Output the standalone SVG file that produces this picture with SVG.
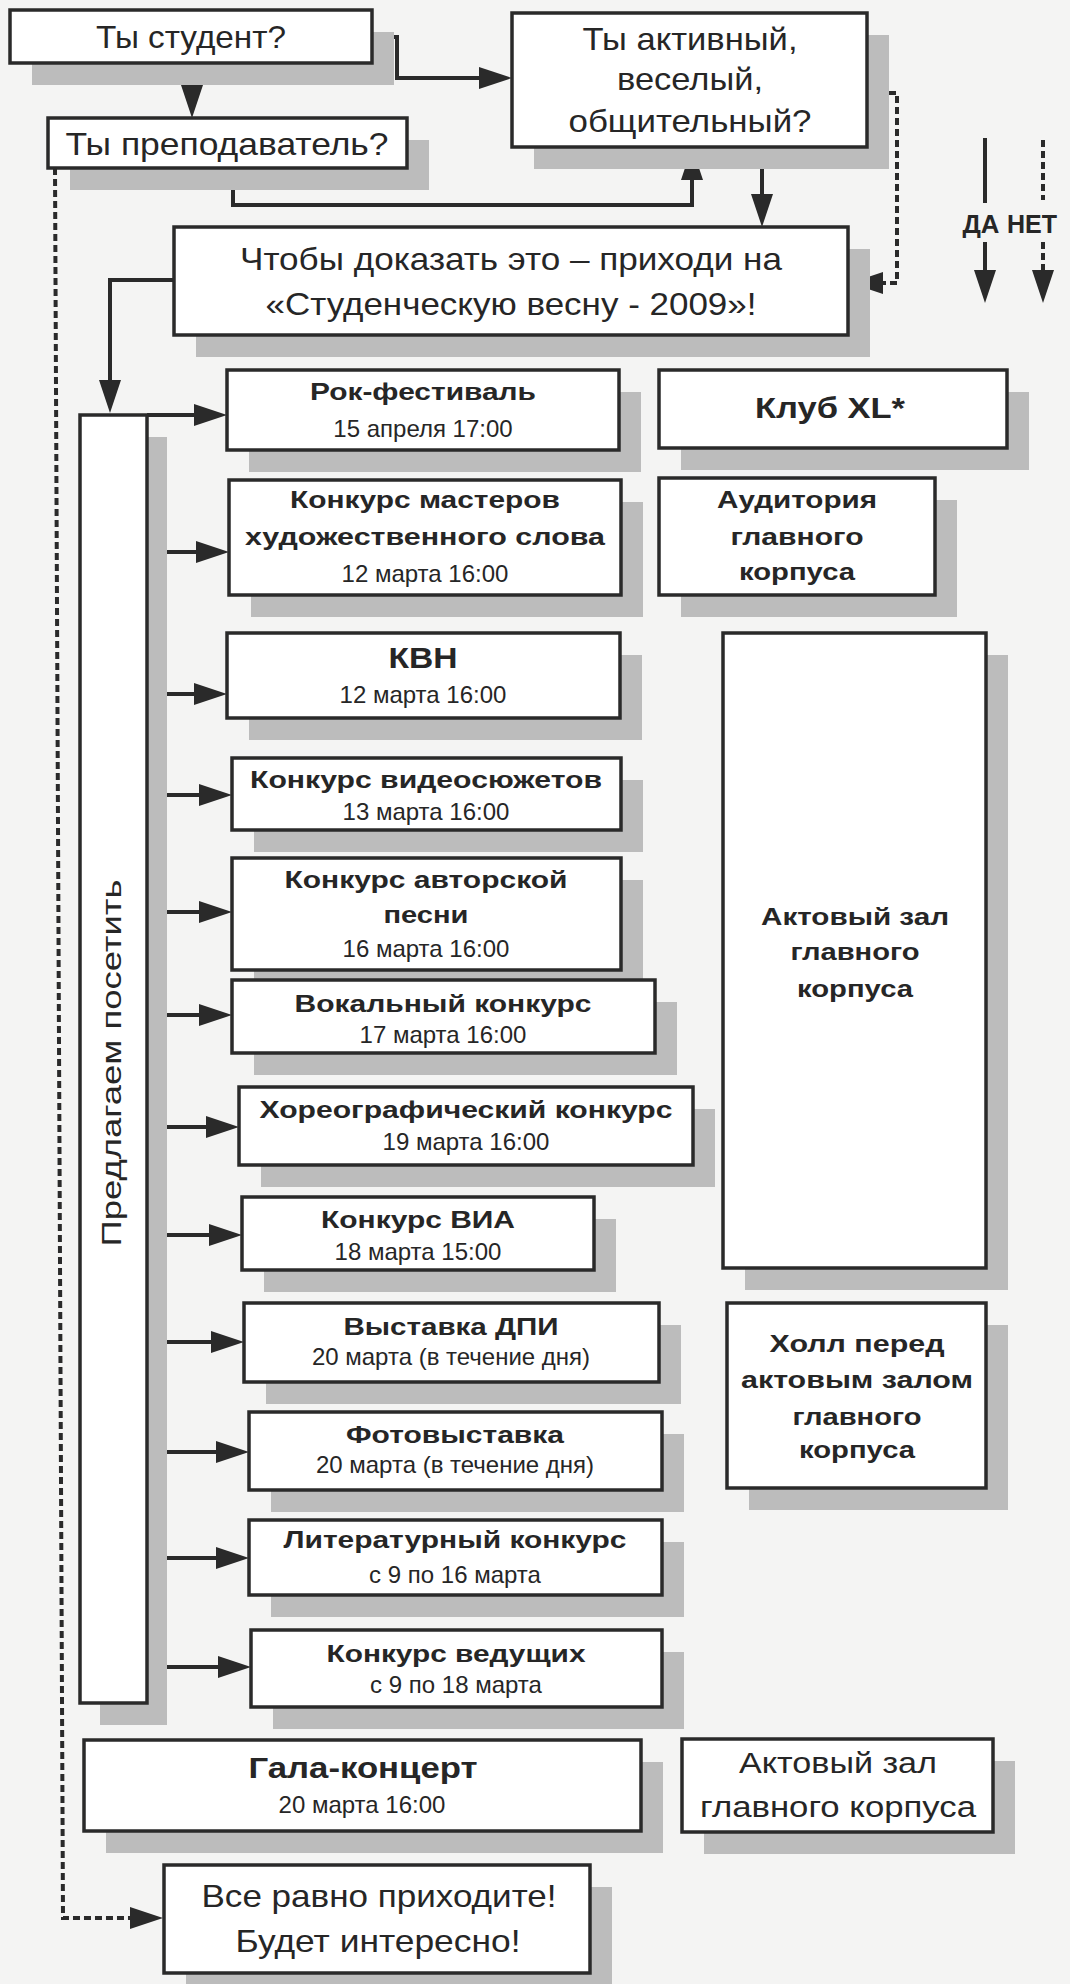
<svg xmlns="http://www.w3.org/2000/svg" width="1070" height="1984" viewBox="0 0 1070 1984">
<defs>
<style>
.bg{fill:#f4f4f3}
.box{fill:#ffffff;stroke:#2a2a2a;stroke-width:3.5}
.sh{fill:#bcbcbc}
.t{font-family:"Liberation Sans",Arial,sans-serif;fill:#262626;text-anchor:middle}
.q{font-size:32px}
.b{font-size:24px;font-weight:bold}
.bb{font-size:30px;font-weight:bold}
.d{font-size:24px}
.r{font-size:29px}
.c{fill:none;stroke:#2a2a2a;stroke-width:4}
.dash{stroke-dasharray:7 4}
</style>
<marker id="ah" markerUnits="userSpaceOnUse" markerWidth="36" markerHeight="24" refX="23" refY="11" orient="auto">
<path d="M0,0 L33,11 L0,22 z" fill="#2a2a2a"/>
</marker>
</defs>
<rect class="bg" x="0" y="0" width="1070" height="1984"/>

<g id="connectors">
<path class="c" d="M372,37 H397 V78 H502" marker-end="url(#ah)"/>
<path class="c dash" d="M192,63 V108" marker-end="url(#ah)"/>
<path class="c" d="M233,168 V205 H692 V157" marker-end="url(#ah)"/>
<path class="c dash" d="M55,168 L63,1918 H153" marker-end="url(#ah)"/>
<path class="c" d="M762,147 V217" marker-end="url(#ah)"/>
<path class="c dash" d="M867,93 H897 V283 H860" marker-end="url(#ah)"/>
<path class="c" d="M174,280 H110 V403" marker-end="url(#ah)"/>
<path class="c" d="M147,415 H217" marker-end="url(#ah)"/>
<path class="c" d="M147,552 H219" marker-end="url(#ah)"/>
<path class="c" d="M147,694 H217" marker-end="url(#ah)"/>
<path class="c" d="M147,795 H222" marker-end="url(#ah)"/>
<path class="c" d="M147,912 H222" marker-end="url(#ah)"/>
<path class="c" d="M147,1015 H222" marker-end="url(#ah)"/>
<path class="c" d="M147,1127 H229" marker-end="url(#ah)"/>
<path class="c" d="M147,1235 H232" marker-end="url(#ah)"/>
<path class="c" d="M147,1342 H234" marker-end="url(#ah)"/>
<path class="c" d="M147,1452 H239" marker-end="url(#ah)"/>
<path class="c" d="M147,1558 H239" marker-end="url(#ah)"/>
<path class="c" d="M147,1667 H241" marker-end="url(#ah)"/>
</g>

<g id="legend">
<path class="c" d="M985,138 V203"/>
<path class="c" d="M985,242 V293" marker-end="url(#ah)"/>
<path class="c dash" d="M1043,140 V200"/>
<path class="c dash" d="M1043,242 V293" marker-end="url(#ah)"/>
<text class="t" style="font-size:26px;font-weight:bold" x="981" y="233" textLength="37" lengthAdjust="spacingAndGlyphs">ДА</text>
<text class="t" style="font-size:26px;font-weight:bold" x="1032" y="233" textLength="50" lengthAdjust="spacingAndGlyphs">НЕТ</text>
</g>

<g id="n_student">
<rect class="sh" x="32" y="32" width="362" height="53"/>
<rect class="box" x="10" y="10" width="362" height="53"/>
<text class="t q" x="191" y="48" textLength="190" lengthAdjust="spacingAndGlyphs">Ты студент?</text>
</g>

<g id="n_teacher">
<rect class="sh" x="70" y="140" width="359" height="50"/>
<rect class="box" x="48" y="118" width="359" height="50"/>
<text class="t q" x="227" y="155" textLength="323" lengthAdjust="spacingAndGlyphs">Ты преподаватель?</text>
</g>

<g id="n_active">
<rect class="sh" x="534" y="35" width="355" height="134"/>
<rect class="box" x="512" y="13" width="355" height="134"/>
<text class="t q" x="690" y="50" textLength="215" lengthAdjust="spacingAndGlyphs">Ты активный,</text>
<text class="t q" x="690" y="90" textLength="146" lengthAdjust="spacingAndGlyphs">веселый,</text>
<text class="t q" x="690" y="132" textLength="243" lengthAdjust="spacingAndGlyphs">общительный?</text>
</g>

<g id="n_prove">
<rect class="sh" x="196" y="249" width="674" height="108"/>
<rect class="box" x="174" y="227" width="674" height="108"/>
<text class="t q" x="511" y="270" textLength="542" lengthAdjust="spacingAndGlyphs">Чтобы доказать это – приходи на</text>
<text class="t q" x="511" y="315" textLength="491" lengthAdjust="spacingAndGlyphs">«Студенческую весну - 2009»!</text>
</g>

<g id="n_offer">
<rect class="sh" x="100" y="437" width="67" height="1288"/>
<rect class="box" x="80" y="415" width="67" height="1288"/>
<text class="t" style="font-size:28px" transform="translate(121,1063) rotate(-90)" x="0" y="0" textLength="367" lengthAdjust="spacingAndGlyphs">Предлагаем посетить</text>
</g>

<g id="n_rock">
<rect class="sh" x="249" y="392" width="392" height="80"/>
<rect class="box" x="227" y="370" width="392" height="80"/>
<text class="t b" x="423" y="400" textLength="226" lengthAdjust="spacingAndGlyphs">Рок-фестиваль</text>
<text class="t d" x="423" y="437">15 апреля 17:00</text>
</g>

<g id="n_master">
<rect class="sh" x="251" y="502" width="392" height="115"/>
<rect class="box" x="229" y="480" width="392" height="115"/>
<text class="t b" x="425" y="508" textLength="270" lengthAdjust="spacingAndGlyphs">Конкурс мастеров</text>
<text class="t b" x="425" y="545" textLength="360" lengthAdjust="spacingAndGlyphs">художественного слова</text>
<text class="t d" x="425" y="582">12 марта 16:00</text>
</g>

<g id="n_kvn">
<rect class="sh" x="249" y="655" width="393" height="85"/>
<rect class="box" x="227" y="633" width="393" height="85"/>
<text class="t bb" x="423" y="668" textLength="69" lengthAdjust="spacingAndGlyphs">КВН</text>
<text class="t d" x="423" y="703">12 марта 16:00</text>
</g>

<g id="n_video">
<rect class="sh" x="254" y="780" width="389" height="72"/>
<rect class="box" x="232" y="758" width="389" height="72"/>
<text class="t b" x="426" y="788" textLength="352" lengthAdjust="spacingAndGlyphs">Конкурс видеосюжетов</text>
<text class="t d" x="426" y="820">13 марта 16:00</text>
</g>

<g id="n_author">
<rect class="sh" x="254" y="880" width="389" height="112"/>
<rect class="box" x="232" y="858" width="389" height="112"/>
<text class="t b" x="426" y="888" textLength="283" lengthAdjust="spacingAndGlyphs">Конкурс авторской</text>
<text class="t b" x="426" y="923" textLength="85" lengthAdjust="spacingAndGlyphs">песни</text>
<text class="t d" x="426" y="957">16 марта 16:00</text>
</g>

<g id="n_vocal">
<rect class="sh" x="254" y="1002" width="423" height="73"/>
<rect class="box" x="232" y="980" width="423" height="73"/>
<text class="t b" x="443" y="1012" textLength="297" lengthAdjust="spacingAndGlyphs">Вокальный конкурс</text>
<text class="t d" x="443" y="1043">17 марта 16:00</text>
</g>

<g id="n_choreo">
<rect class="sh" x="261" y="1109" width="454" height="78"/>
<rect class="box" x="239" y="1087" width="454" height="78"/>
<text class="t b" x="466" y="1118" textLength="413" lengthAdjust="spacingAndGlyphs">Хореографический конкурс</text>
<text class="t d" x="466" y="1150">19 марта 16:00</text>
</g>

<g id="n_via">
<rect class="sh" x="264" y="1219" width="352" height="73"/>
<rect class="box" x="242" y="1197" width="352" height="73"/>
<text class="t b" x="418" y="1228" textLength="194" lengthAdjust="spacingAndGlyphs">Конкурс ВИА</text>
<text class="t d" x="418" y="1260">18 марта 15:00</text>
</g>

<g id="n_dpi">
<rect class="sh" x="266" y="1325" width="415" height="79"/>
<rect class="box" x="244" y="1303" width="415" height="79"/>
<text class="t b" x="451" y="1335" textLength="215" lengthAdjust="spacingAndGlyphs">Выставка ДПИ</text>
<text class="t d" x="451" y="1365">20 марта (в течение дня)</text>
</g>

<g id="n_photo">
<rect class="sh" x="271" y="1434" width="413" height="78"/>
<rect class="box" x="249" y="1412" width="413" height="78"/>
<text class="t b" x="455" y="1443" textLength="218" lengthAdjust="spacingAndGlyphs">Фотовыставка</text>
<text class="t d" x="455" y="1473">20 марта (в течение дня)</text>
</g>

<g id="n_lit">
<rect class="sh" x="271" y="1542" width="413" height="75"/>
<rect class="box" x="249" y="1520" width="413" height="75"/>
<text class="t b" x="455" y="1548" textLength="343" lengthAdjust="spacingAndGlyphs">Литературный конкурс</text>
<text class="t d" x="455" y="1583">с 9 по 16 марта</text>
</g>

<g id="n_host">
<rect class="sh" x="273" y="1652" width="411" height="77"/>
<rect class="box" x="251" y="1630" width="411" height="77"/>
<text class="t b" x="456" y="1662" textLength="259" lengthAdjust="spacingAndGlyphs">Конкурс ведущих</text>
<text class="t d" x="456" y="1693">с 9 по 18 марта</text>
</g>

<g id="n_gala">
<rect class="sh" x="106" y="1762" width="557" height="91"/>
<rect class="box" x="84" y="1740" width="557" height="91"/>
<text class="t" style="font-size:29px;font-weight:bold" x="363" y="1778" textLength="229" lengthAdjust="spacingAndGlyphs">Гала-концерт</text>
<text class="t d" x="362" y="1813">20 марта 16:00</text>
</g>

<g id="n_anyway">
<rect class="sh" x="186" y="1887" width="426" height="108"/>
<rect class="box" x="164" y="1865" width="426" height="108"/>
<text class="t q" x="379" y="1907" textLength="355" lengthAdjust="spacingAndGlyphs">Все равно приходите!</text>
<text class="t q" x="378" y="1952" textLength="285" lengthAdjust="spacingAndGlyphs">Будет интересно!</text>
</g>

<g id="n_club">
<rect class="sh" x="681" y="392" width="348" height="78"/>
<rect class="box" x="659" y="370" width="348" height="78"/>
<text class="t bb" x="830" y="418" textLength="150" lengthAdjust="spacingAndGlyphs">Клуб XL*</text>
</g>

<g id="n_aud">
<rect class="sh" x="681" y="500" width="276" height="117"/>
<rect class="box" x="659" y="478" width="276" height="117"/>
<text class="t b" x="797" y="508" textLength="160" lengthAdjust="spacingAndGlyphs">Аудитория</text>
<text class="t b" x="797" y="545" textLength="133" lengthAdjust="spacingAndGlyphs">главного</text>
<text class="t b" x="797" y="580" textLength="116" lengthAdjust="spacingAndGlyphs">корпуса</text>
</g>

<g id="n_hall">
<rect class="sh" x="745" y="655" width="263" height="635"/>
<rect class="box" x="723" y="633" width="263" height="635"/>
<text class="t b" x="855" y="925" textLength="188" lengthAdjust="spacingAndGlyphs">Актовый зал</text>
<text class="t b" x="855" y="960" textLength="129" lengthAdjust="spacingAndGlyphs">главного</text>
<text class="t b" x="855" y="997" textLength="116" lengthAdjust="spacingAndGlyphs">корпуса</text>
</g>

<g id="n_foyer">
<rect class="sh" x="749" y="1325" width="259" height="185"/>
<rect class="box" x="727" y="1303" width="259" height="185"/>
<text class="t b" x="857" y="1352" textLength="175" lengthAdjust="spacingAndGlyphs">Холл перед</text>
<text class="t b" x="857" y="1388" textLength="232" lengthAdjust="spacingAndGlyphs">актовым залом</text>
<text class="t b" x="857" y="1425" textLength="129" lengthAdjust="spacingAndGlyphs">главного</text>
<text class="t b" x="857" y="1458" textLength="116" lengthAdjust="spacingAndGlyphs">корпуса</text>
</g>

<g id="n_hall2">
<rect class="sh" x="704" y="1761" width="311" height="93"/>
<rect class="box" x="682" y="1739" width="311" height="93"/>
<text class="t r" x="838" y="1773" textLength="198" lengthAdjust="spacingAndGlyphs">Актовый зал</text>
<text class="t r" x="838" y="1817" textLength="276" lengthAdjust="spacingAndGlyphs">главного корпуса</text>
</g>
</svg>
